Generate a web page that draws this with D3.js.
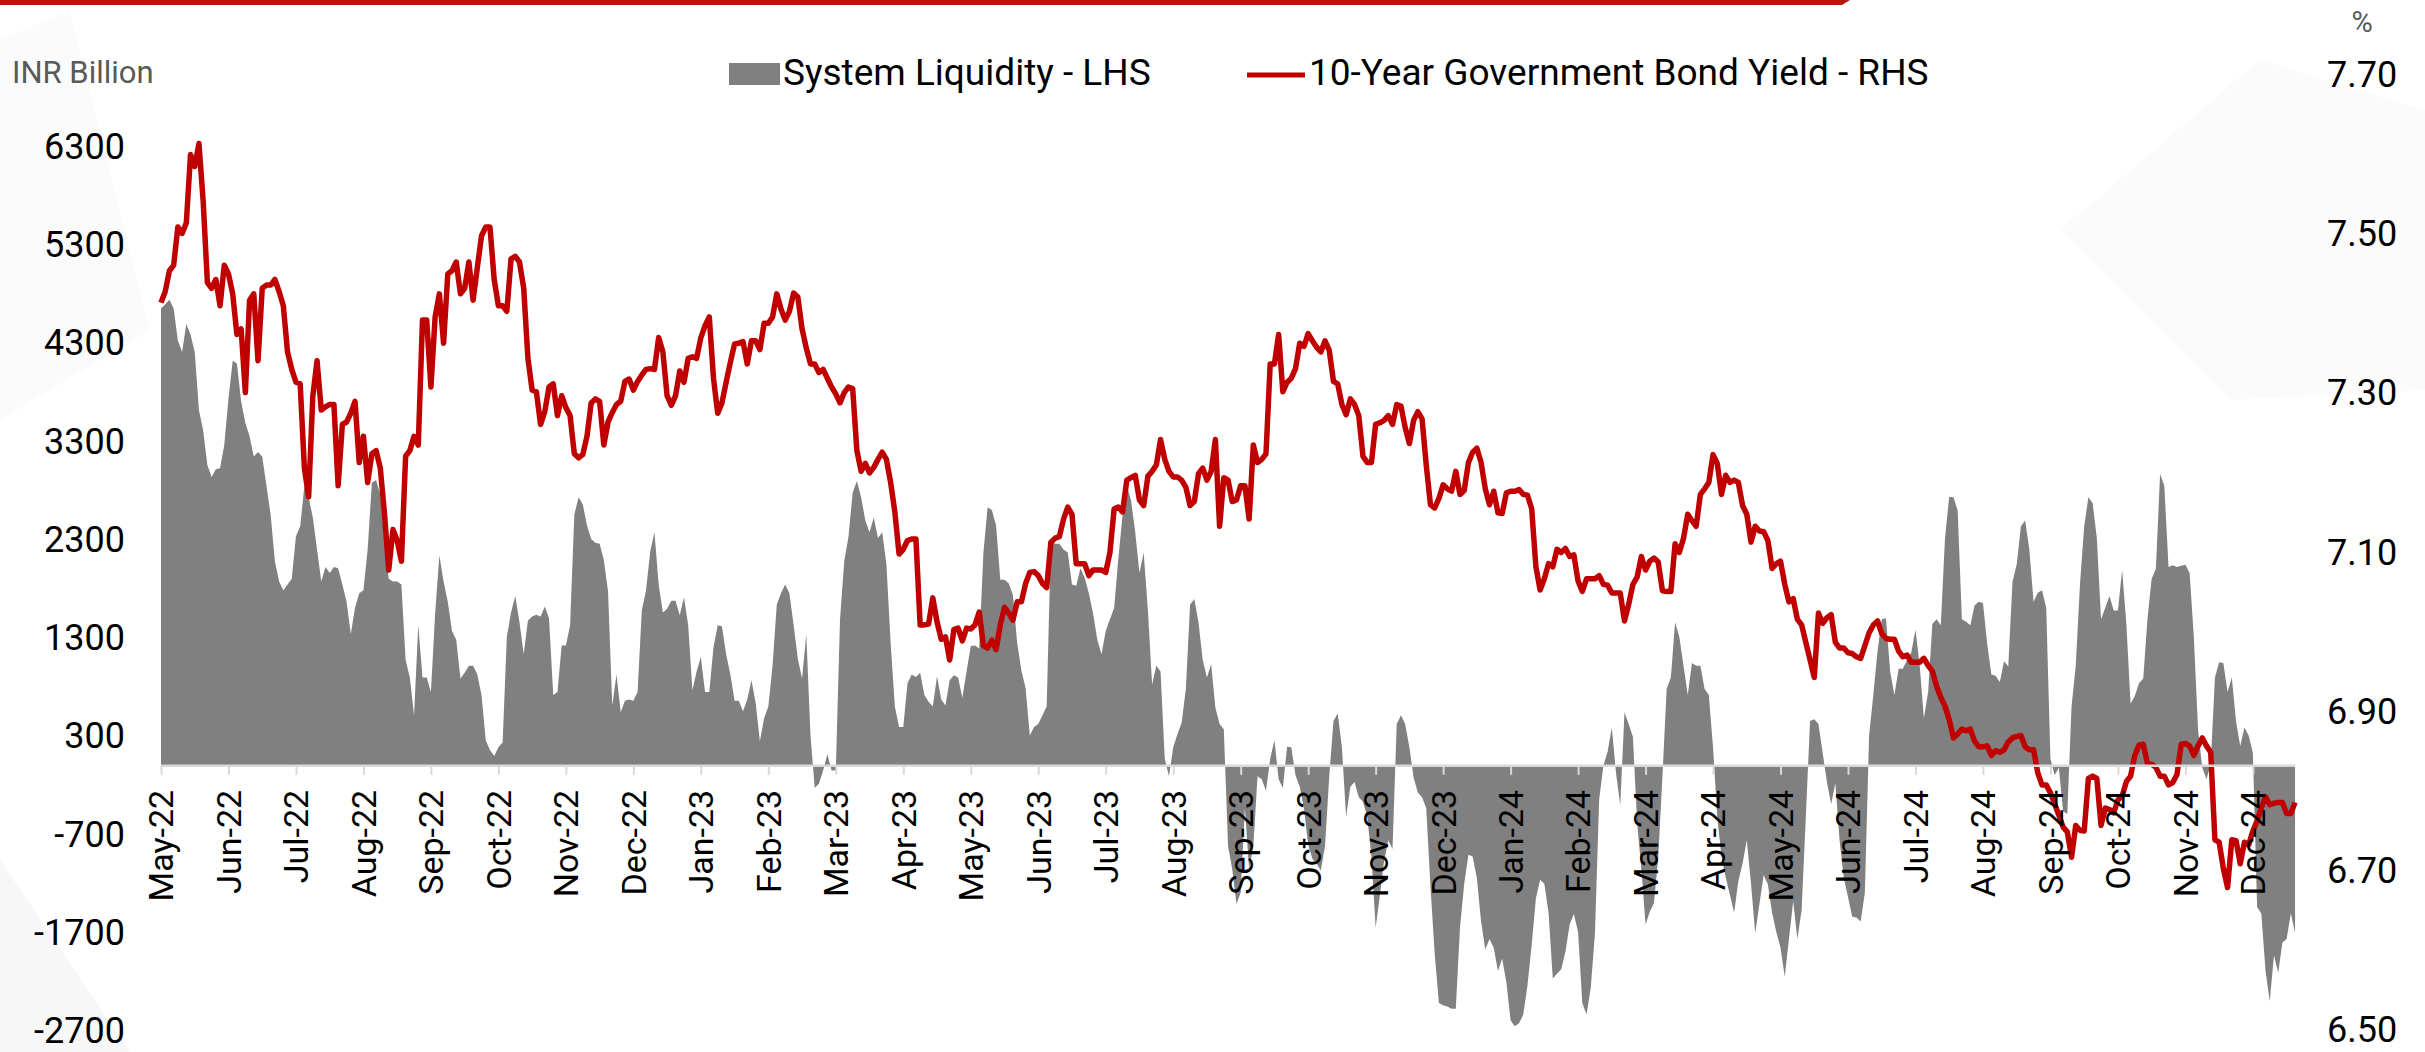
<!DOCTYPE html>
<html>
<head>
<meta charset="utf-8">
<script src="https://cdn.jsdelivr.net/npm/d3@7"></script>
<style>
  html, body { margin: 0; padding: 0; background: #ffffff; }
  svg { display: block; font-family: Roboto, "Noto Sans", sans-serif; }
</style>
</head>
<body>
<svg id="chart" width="2425" height="1052"></svg>
<script>
// Month categories on the x axis (one tick per month)
const monthLabels = [
  "May-22","Jun-22","Jul-22","Aug-22","Sep-22","Oct-22","Nov-22","Dec-22",
  "Jan-23","Feb-23","Mar-23","Apr-23","May-23","Jun-23","Jul-23","Aug-23",
  "Sep-23","Oct-23","Nov-23","Dec-23","Jan-24","Feb-24","Mar-24","Apr-24",
  "May-24","Jun-24","Jul-24","Aug-24","Sep-24","Oct-24","Nov-24","Dec-24"
];

// Observations are spaced evenly, this many per month (one row = one month)
const samplesPerMonth = 16;

// System liquidity, INR billion (LHS)
const liquidity2022 = [
  4657,4698,4746,4657,4331,4213,4497,4391,4213,3621,3414,3059,2941,3018,3030,3266,
  3740,4124,4095,3710,3491,3355,3148,3195,3148,2852,2556,2083,1876,1787,1846,1905,
  2337,2438,2852,2734,2527,2201,1876,2024,1964,2024,2012,1846,1669,1343,1609,1757,
  1787,2201,2882,2911,2763,2320,1905,1876,1876,1846,1077,899,515,1432,899,899,
  751,1550,2142,1876,1669,1373,1284,888,947,1018,1018,929,722,260,160,100,
  189,237,1314,1562,1728,1462,1136,1479,1521,1538,1521,1621,1503,722,751,1225,
  1225,1432,2556,2734,2663,2450,2308,2272,2260,2095,1775,615,929,544,663,675,
  663,751,1580,1787,2183,2379,1846,1562,1598,1680,1680,1533,1716,1432,769,959
];
const liquidity2023 = [
  1107,751,751,1207,1432,1420,1136,929,663,663,556,675,870,639,249,485,
  604,1018,1639,1757,1846,1757,1432,1089,888,1337,308,-225,-183,-47,118,-47,
  -47,1491,2083,2331,2781,2899,2734,2497,2379,2527,2320,2379,2053,1254,604,396,
  396,840,929,905,947,722,651,604,911,675,615,870,923,899,692,959,
  1219,1225,1195,2172,2633,2604,2450,1893,1893,1858,1740,1254,970,793,308,396,
  426,515,604,2290,2260,2260,2201,2172,1846,1834,2012,1917,1757,1550,1284,1136,
  1373,1491,1609,2112,2556,2852,2704,2379,1964,2172,1580,828,1018,959,71,-107,
  189,320,438,781,1639,1698,1462,1077,899,1036,592,426,373,-817,-1053,-1408,
  -1290,-432,-1053,-817,-107,-136,-254,71,260,-136,-225,195,189,-95,-213,-432,
  -805,-947,-994,-1065,-817,-107,456,533,189,-521,-213,-166,-320,-367,-521,-923,
  -1645,-1320,-970,-757,-846,426,515,426,189,-118,-272,-320,-432,-1231,-1911,-2414,
  -2438,-2450,-2473,-2473,-1645,-1201,-905,-923,-1142,-1586,-1870,-1763,-1852,-2089,-1964,-2207
];
const liquidity2024 = [
  -2592,-2651,-2621,-2533,-2237,-1822,-1349,-1160,-1201,-1497,-2166,-2118,-2071,-1893,-1615,-1509,
  -1692,-2414,-2533,-2266,-1704,-343,0,142,391,-77,-402,544,426,296,-580,-1053,
  -1615,-1485,-1396,-935,-107,781,899,1462,1314,1018,722,1047,1018,1018,781,722,
  189,-521,-923,-1136,-1314,-1497,-1172,-994,-757,-1201,-1704,-1408,-1112,-1207,-1497,-1692,
  -1852,-2148,-1763,-1379,-1763,-1467,-521,456,473,426,130,-166,-391,-178,-757,-1142,
  -1337,-1538,-1544,-1586,-1290,308,722,1166,1491,1503,959,722,988,988,1077,1154,
  1385,1018,485,751,1444,1491,1432,2320,2740,2734,2600,1491,1467,1432,1633,1669,
  1657,1243,929,917,852,1065,1012,1870,2053,2438,2497,2201,1669,1763,1787,1609,
  71,-95,-18,-462,-491,604,1018,1846,2438,2734,2675,2320,1491,1609,1728,1580,
  1580,1994,1444,633,710,840,888,1491,1905,2006,2970,2852,2024,2041,2024,2036,
  2047,1964,1314,367,-18,-136,24,899,1053,1047,751,899,456,201,391,308,
  130,-1438,-1503,-2089,-2400,-1929,-2106,-1799,-1763,-1500,-1700
];

// 10-year government bond yield, % (RHS)
const yield2022 = [
  7.414,7.428,7.454,7.461,7.509,7.501,7.514,7.600,7.585,7.614,7.541,7.439,7.432,7.443,7.410,7.461,
  7.450,7.425,7.374,7.381,7.301,7.417,7.425,7.341,7.432,7.436,7.436,7.443,7.428,7.410,7.352,7.330,
  7.314,7.312,7.206,7.170,7.297,7.341,7.279,7.283,7.286,7.286,7.184,7.261,7.264,7.275,7.290,7.213,
  7.246,7.188,7.224,7.228,7.206,7.148,7.078,7.129,7.115,7.089,7.221,7.228,7.246,7.235,7.392,7.392,
  7.308,7.396,7.425,7.363,7.450,7.454,7.465,7.425,7.432,7.465,7.417,7.458,7.498,7.509,7.509,7.443,
  7.410,7.410,7.403,7.469,7.472,7.465,7.432,7.344,7.304,7.302,7.261,7.277,7.308,7.312,7.272,7.297,
  7.282,7.272,7.224,7.219,7.223,7.246,7.288,7.293,7.290,7.235,7.264,7.276,7.286,7.290,7.315,7.318,
  7.304,7.315,7.323,7.330,7.331,7.330,7.370,7.352,7.297,7.285,7.297,7.328,7.314,7.344,7.346,7.344
];
const yield2023 = [
  7.370,7.385,7.396,7.319,7.275,7.288,7.314,7.339,7.362,7.363,7.365,7.337,7.366,7.366,7.355,7.388,
  7.388,7.396,7.425,7.406,7.392,7.403,7.426,7.421,7.381,7.357,7.337,7.337,7.326,7.330,7.319,7.308,
  7.299,7.288,7.301,7.308,7.306,7.228,7.202,7.212,7.200,7.207,7.217,7.226,7.217,7.188,7.151,7.098,
  7.104,7.115,7.117,7.117,7.009,7.009,7.010,7.043,7.013,6.991,6.994,6.965,7.003,7.005,6.989,7.005,
  7.004,7.009,7.025,6.983,6.980,6.990,6.978,7.009,7.031,7.024,7.015,7.038,7.038,7.061,7.075,7.076,
  7.071,7.061,7.056,7.113,7.118,7.120,7.142,7.157,7.148,7.086,7.086,7.086,7.071,7.078,7.078,7.078,
  7.075,7.100,7.155,7.157,7.151,7.191,7.194,7.197,7.166,7.159,7.196,7.202,7.210,7.242,7.217,7.202,
  7.195,7.195,7.191,7.182,7.159,7.164,7.199,7.206,7.191,7.202,7.242,7.133,7.194,7.191,7.164,7.166,
  7.184,7.184,7.142,7.235,7.213,7.217,7.224,7.337,7.337,7.374,7.302,7.314,7.319,7.331,7.363,7.359,
  7.375,7.366,7.358,7.352,7.366,7.354,7.315,7.312,7.286,7.273,7.293,7.286,7.272,7.221,7.213,7.213,
  7.261,7.263,7.266,7.272,7.261,7.286,7.284,7.257,7.237,7.266,7.277,7.268,7.210,7.160,7.156,7.168,
  7.185,7.180,7.177,7.202,7.173,7.178,7.213,7.226,7.231,7.213,7.180,7.160,7.177,7.150,7.149,7.175
];
const yield2024 = [
  7.177,7.177,7.179,7.173,7.172,7.155,7.082,7.053,7.067,7.086,7.082,7.104,7.100,7.105,7.095,7.097,
  7.064,7.051,7.067,7.067,7.067,7.071,7.060,7.059,7.049,7.049,7.049,7.014,7.035,7.060,7.069,7.095,
  7.078,7.089,7.093,7.088,7.052,7.051,7.051,7.111,7.100,7.118,7.148,7.140,7.133,7.173,7.180,7.188,
  7.223,7.212,7.173,7.197,7.188,7.191,7.188,7.159,7.148,7.113,7.133,7.127,7.126,7.115,7.080,7.086,
  7.089,7.060,7.038,7.042,7.016,7.009,6.987,6.965,6.943,7.024,7.011,7.018,7.022,6.987,6.980,6.980,
  6.974,6.973,6.969,6.967,6.983,6.999,7.009,7.014,6.998,6.992,6.991,6.991,6.976,6.969,6.971,6.962,
  6.962,6.962,6.967,6.958,6.951,6.932,6.918,6.907,6.890,6.867,6.872,6.878,6.876,6.878,6.863,6.856,
  6.856,6.857,6.845,6.851,6.849,6.852,6.862,6.867,6.869,6.870,6.856,6.852,6.852,6.823,6.808,6.808,
  6.798,6.784,6.770,6.755,6.749,6.717,6.757,6.751,6.750,6.816,6.819,6.816,6.757,6.779,6.777,6.773,
  6.789,6.794,6.812,6.819,6.845,6.858,6.859,6.835,6.834,6.830,6.819,6.819,6.808,6.811,6.821,6.859,
  6.860,6.857,6.845,6.857,6.867,6.857,6.849,6.739,6.736,6.703,6.679,6.739,6.738,6.709,6.736,6.733,
  6.750,6.763,6.779,6.793,6.783,6.785,6.786,6.786,6.772,6.772,6.786
];

const liquidity = [...liquidity2022, ...liquidity2023, ...liquidity2024];
const bondYield = [...yield2022, ...yield2023, ...yield2024];

// Axis tick values
const leftTicks = [6300, 5300, 4300, 3300, 2300, 1300, 300, -700, -1700, -2700];
const rightTicks = [7.70, 7.50, 7.30, 7.10, 6.90, 6.70, 6.50];

// Series names for the legend
const seriesNames = ["System Liquidity - LHS", "10-Year Government Bond Yield - RHS"];

const AREA_FILL = "#808080";
const LINE_RED = "#C00000";
const AXIS_GREY = "#d9d9d9";

const svg = d3.select("#chart");

// soft background facets
const bg = svg.append("g");
bg.append("polygon")
  .attr("points", "0,860 130,1052 0,1052")
  .attr("fill", "#f7f7f7");
bg.append("polygon")
  .attr("points", "0,40 70,10 150,330 0,420")
  .attr("fill", "#fbfbfb");
bg.append("polygon")
  .attr("points", "2060,230 2260,60 2425,110 2425,390 2230,400")
  .attr("fill", "#fbfbfb");

// thin red band along the top edge
svg.append("polygon")
  .attr("points", "0,0 1850,0 1842,5 0,5")
  .attr("fill", "#B5170B");

// scales
const x = d3.scaleLinear()
  .domain([0, monthLabels.length - 1])
  .range([161, 161 + (monthLabels.length - 1) * 67.48]);
const yL = d3.scaleLinear().domain([-2700, 6300]).range([1031, 147]);
const yR = d3.scaleLinear().domain([6.5, 7.7]).range([1030, 75]);

const xAt = i => x(i / samplesPerMonth);

// liquidity area
const area = d3.area()
  .x((d, i) => xAt(i))
  .y0(yL(0))
  .y1(d => yL(d));

svg.append("path")
  .datum(liquidity)
  .attr("d", area)
  .attr("fill", AREA_FILL);

// x axis: baseline, ticks and rotated month labels
const xAxis = d3.axisBottom(x)
  .tickValues(d3.range(monthLabels.length))
  .tickFormat(i => monthLabels[i])
  .tickSize(9)
  .tickSizeOuter(0);

const gx = svg.append("g")
  .attr("transform", `translate(0,${yL(0)})`)
  .call(xAxis);
gx.select(".domain").remove();
gx.insert("line", ":first-child")
  .attr("x1", x(0))
  .attr("x2", xAt(liquidity.length - 1))
  .attr("y1", 0).attr("y2", 0)
  .attr("stroke", AXIS_GREY)
  .attr("stroke-width", 2.5);
gx.selectAll(".tick line")
  .attr("stroke", AXIS_GREY)
  .attr("stroke-width", 2);

// yield line
const line = d3.line()
  .x((d, i) => xAt(i))
  .y(d => yR(d));

svg.append("path")
  .datum(bondYield)
  .attr("d", line)
  .attr("fill", "none")
  .attr("stroke", LINE_RED)
  .attr("stroke-width", 5.5)
  .attr("stroke-linejoin", "round");

// month labels drawn above the series
gx.raise();
gx.selectAll(".tick text")
  .attr("transform", "translate(0,24) rotate(-90)")
  .attr("x", 0)
  .attr("y", 0)
  .attr("dy", "0.35em")
  .attr("text-anchor", "end")
  .attr("font-family", "Roboto, sans-serif")
  .attr("font-size", 34)
  .attr("fill", "#000");

// left axis
const gl = svg.append("g")
  .attr("transform", "translate(125,0)")
  .call(d3.axisLeft(yL).tickValues(leftTicks).tickFormat(d => String(d)).tickSize(0).tickPadding(0));
gl.select(".domain").remove();
gl.selectAll(".tick text")
  .attr("font-family", "Roboto, sans-serif")
  .attr("font-size", 36)
  .attr("fill", "#000");

// right axis
const gr = svg.append("g")
  .attr("transform", "translate(2327,0)")
  .call(d3.axisRight(yR).tickValues(rightTicks).tickFormat(d3.format(".2f")).tickSize(0).tickPadding(0));
gr.select(".domain").remove();
gr.selectAll(".tick text")
  .attr("font-family", "Roboto, sans-serif")
  .attr("font-size", 36)
  .attr("fill", "#000");

// axis unit captions
svg.append("text")
  .attr("x", 12).attr("y", 83)
  .attr("font-size", 31)
  .attr("fill", "#595959")
  .text("INR Billion");
svg.append("text")
  .attr("x", 2362).attr("y", 32)
  .attr("text-anchor", "middle")
  .attr("font-size", 29)
  .attr("fill", "#595959")
  .text("%");

// legend
const lg = svg.append("g");
lg.append("rect")
  .attr("x", 729).attr("y", 63).attr("width", 51).attr("height", 22)
  .attr("fill", AREA_FILL);
lg.append("text")
  .attr("x", 783).attr("y", 85)
  .attr("font-size", 37).attr("fill", "#000")
  .text(seriesNames[0]);
lg.append("line")
  .attr("x1", 1247).attr("x2", 1305).attr("y1", 75).attr("y2", 75)
  .attr("stroke", LINE_RED).attr("stroke-width", 5);
lg.append("text")
  .attr("x", 1309).attr("y", 85)
  .attr("font-size", 37).attr("fill", "#000")
  .text(seriesNames[1]);
</script>
</body>
</html>
